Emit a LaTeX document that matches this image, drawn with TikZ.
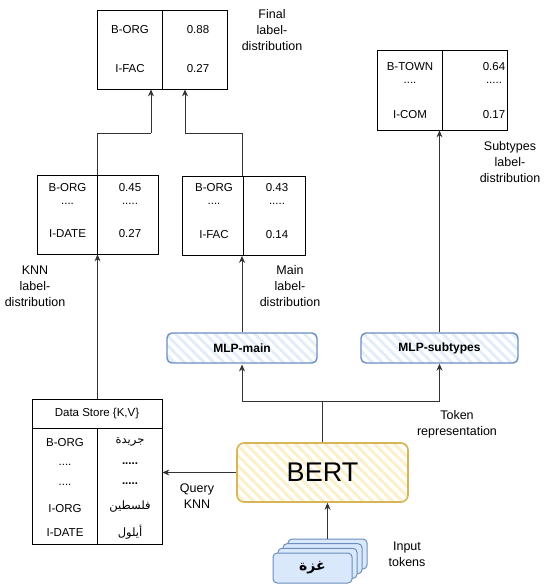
\documentclass[tikz,border=0pt]{standalone}
\usepackage{fontspec}
\setmainfont{Liberation Sans}
\newfontfamily\arabicfont[Script=Arabic]{DejaVu Sans}
\TeXXeTstate=1
\usetikzlibrary{arrows.meta,calc,patterns.meta}

\definecolor{bertline}{HTML}{D6B656}
\definecolor{bertfill}{HTML}{FCF0C8}
\definecolor{mlpline}{HTML}{6C8EBF}
\definecolor{mlpfill}{HTML}{E3EDFA}
\definecolor{tokfill}{HTML}{DAE8FC}
\definecolor{linkgray}{HTML}{333333}

\begin{document}
\begin{tikzpicture}[x=1pt,y=-1pt,
	tbl/.style={draw,line width=0.8pt,inner sep=0,minimum height=79pt},
	cell/.style={font=\fontsize{11.5}{13}\selectfont,inner sep=1pt},
	lbl/.style={font=\fontsize{12.5}{16}\selectfont,align=center,inner sep=0},
	link/.style={draw=linkgray,line width=0.9pt},
	arr/.style={link,-{Stealth[length=7pt,width=6pt]}},
	mlp/.style={draw=mlpline,line width=1.4pt,rounded corners=5pt,minimum height=30pt,
		pattern={Lines[angle=-45,distance=7pt,line width=3pt]},pattern color=mlpfill,
		font=\bfseries\fontsize{12}{14}\selectfont},
	tok/.style={draw=mlpline,fill=tokfill,line width=1pt,rounded corners=4pt,
		minimum width=79pt,minimum height=30pt}]
	\useasboundingbox (0,0) rectangle (548,584);

	% tables
	\node[tbl,minimum width=130pt] (final) at (162,49.5) {};
	\draw[line width=0.8pt] (final.north) -- (final.south);
	\node[cell] (f1k) at (130,30) {B-ORG};
	\node[cell] (f1v) at (198,30) {0.88};
	\node[cell] (f2k) at (130,69) {I-FAC};
	\node[cell] (f2v) at (198,69) {0.27};

	\node[tbl,minimum width=121pt] (knn) at (97.5,214.5) {};
	\draw[line width=0.8pt] (knn.north) -- (knn.south);
	\node[cell] (k1k) at (67.5,188) {B-ORG};
	\node[cell] (k1v) at (130,188) {0.45};
	\node[cell] (k2k) at (67.5,204) {....};
	\node[cell] (k2v) at (130,204) {.....};
	\node[cell] (k3k) at (67.5,234) {I-DATE};
	\node[cell] (k3v) at (130,234) {0.27};

	\node[tbl,minimum width=123pt] (main) at (243.5,216) {};
	\draw[line width=0.8pt] (main.north) -- (main.south);
	\node[cell] (m1k) at (214,188) {B-ORG};
	\node[cell] (m1v) at (277,188) {0.43};
	\node[cell] (m2k) at (214,204) {....};
	\node[cell] (m2v) at (277,204) {.....};
	\node[cell] (m3k) at (214,235) {I-FAC};
	\node[cell] (m3v) at (277,235) {0.14};

	\node[tbl,minimum width=130pt,minimum height=80pt] (sub) at (442,90) {};
	\draw[line width=0.8pt] (sub.north) -- (sub.south);
	\node[cell] (s1k) at (410,67) {B-TOWN};
	\node[cell] (s1v) at (494,67) {0.64};
	\node[cell] (s2k) at (410,83) {....};
	\node[cell] (s2v) at (494,83) {.....};
	\node[cell] (s3k) at (410,115) {I-COM};
	\node[cell] (s3v) at (494,115) {0.17};

	% data store
	\node[tbl,minimum width=130pt,minimum height=145pt] (store) at (97,471.5) {};
	\coordinate (storehl) at ($(store.north west)+(0,30)$);
	\coordinate (storehr) at ($(store.north east)+(0,30)$);
	\draw[line width=0.8pt] (storehl) -- (storehr);
	\draw[line width=0.8pt] ($(storehl)!0.5!(storehr)$) -- (store.south);
	\node[cell] (dshead) at (97,414) {Data Store \{K,V\}};
	\node[cell] (d1k) at (65,443) {B-ORG};
	\node[cell] (d1v) at (130,442) {\arabicfont\beginR جريدة\endR};
	\node[cell] (d2k) at (65,465) {....};
	\node[cell] (d2v) at (130,464) {\bfseries .....};
	\node[cell] (d3k) at (65,485) {....};
	\node[cell] (d3v) at (130,484) {\bfseries .....};
	\node[cell] (d4k) at (65,509) {I-ORG};
	\node[cell] (d4v) at (130,507) {\arabicfont\beginR فلسطين\endR};
	\node[cell] (d5k) at (65,533) {I-DATE};
	\node[cell] (d5v) at (130,532) {\arabicfont\beginR أيلول\endR};

	% models
	\node[mlp,minimum width=150pt] (mlpmain) at (242,348) {MLP-main};
	\node[mlp,minimum width=157pt] (mlpsub) at (439.5,348) {MLP-subtypes};
	\node[draw=bertline,line width=1.6pt,rounded corners=7pt,minimum width=171pt,minimum height=59pt,
		pattern={Lines[angle=-45,distance=7pt,line width=3pt]},pattern color=bertfill,
		font=\fontsize{27}{30}\selectfont] (bert) at (322.5,472.5) {BERT};

	% input tokens
	\node[tok] (tok3) at (327.5,554) {};
	\node[tok] (tok2) at (322.5,558.7) {};
	\node[tok] (tok1) at (317.5,563.3) {};
	\node[tok,font=\arabicfont\bfseries\fontsize{14}{16}\selectfont] (tok0) at (312.5,568) {\beginR غزة\endR};

	% connectors
	\coordinate (jk) at (151,133);
	\coordinate (jm) at (185,133);
	\draw[link] (knn.north) |- (jk);
	\draw[arr] (jk) -- (jk |- final.south);
	\draw[link] (main.north -| mlpmain.north) |- (jm);
	\draw[arr] (jm) -- (jm |- final.south);
	\draw[arr] (mlpmain.north) -- (mlpmain.north |- main.south);
	\draw[arr] (mlpsub.north) -- (mlpsub.north |- sub.south);
	\coordinate (split) at ($(bert.north)+(0,-41)$);
	\draw[link] (bert.north) -- (split);
	\draw[arr] (split) -| (mlpmain.south);
	\draw[arr] (split) -| (mlpsub.south);
	\draw[arr] (bert.west) -- (bert.west -| store.east);
	\draw[arr] (store.north -| knn.south) -- (knn.south);
	\draw[arr] (tok3.north) -- (tok3.north |- bert.south);

	% labels
	\node[lbl] (lfinal) at (272,30) {Final\\label-\\distribution};
	\node[lbl] (lknn) at (35,286) {KNN\\label-\\distribution};
	\node[lbl] (lmain) at (290,286) {Main\\label-\\distribution};
	\node[lbl] (lsub) at (510,162) {Subtypes\\label-\\distribution};
	\node[lbl] (ltoken) at (457,424) {Token\\representation};
	\node[lbl] (lquery) at (197,496) {Query\\KNN};
	\node[lbl] (linput) at (407,554) {Input\\tokens};
\end{tikzpicture}
\end{document}
